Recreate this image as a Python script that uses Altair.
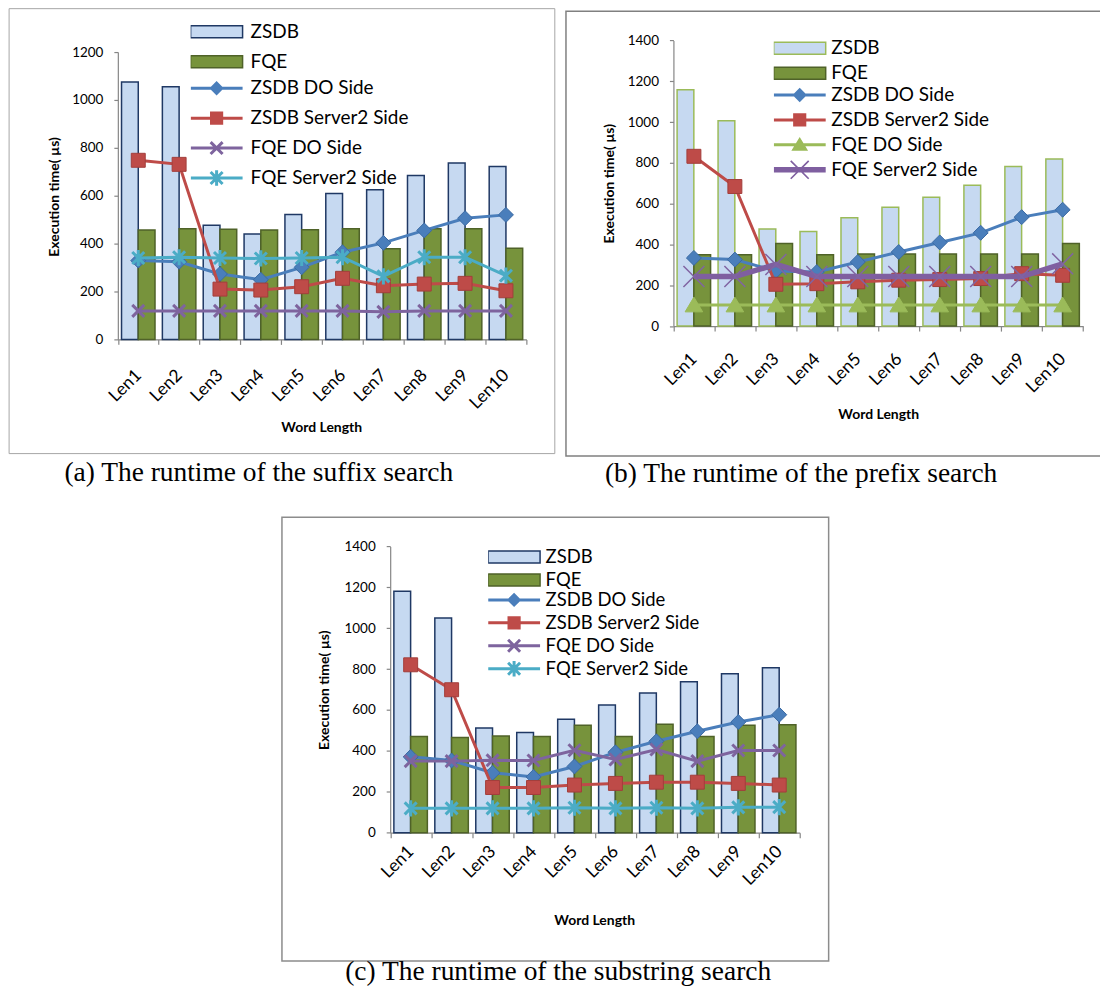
import altair as alt
import pandas as pd

cats = ["Len1", "Len2", "Len3", "Len4", "Len5", "Len6", "Len7", "Len8", "Len9", "Len10"]
bar_names = ["ZSDB", "FQE"]
line_names = ["ZSDB DO Side", "ZSDB Server2 Side", "FQE DO Side", "FQE Server2 Side"]

# (a) suffix search
a_zsdb = [1075, 1055, 477, 440, 522, 609, 625, 684, 737, 722]
a_fqe = [457, 462, 460, 457, 458, 462, 379, 462, 462, 381]
a_zsdb_do = [329, 324, 273, 249, 301, 364, 403, 455, 506, 520]
a_zsdb_s2 = [748, 731, 210, 206, 220, 255, 224, 231, 234, 203]
a_fqe_do = [119, 119, 119, 119, 119, 119, 115, 119, 119, 119]
a_fqe_s2 = [340, 343, 340, 338, 340, 343, 263, 343, 343, 266]

# (b) prefix search
b_zsdb = [1158, 1006, 476, 464, 531, 583, 632, 690, 782, 819]
b_fqe = [350, 350, 405, 350, 353, 353, 353, 353, 353, 405]
b_zsdb_do = [334, 326, 270, 265, 314, 363, 410, 457, 534, 570]
b_zsdb_s2 = [832, 684, 205, 208, 217, 225, 228, 233, 257, 249]
b_fqe_do = [103, 103, 103, 103, 103, 103, 103, 103, 103, 103]
b_fqe_s2 = [243, 243, 302, 243, 243, 243, 243, 243, 243, 305]

# (c) substring search
c_zsdb = [1181, 1050, 512, 490, 555, 625, 683, 738, 777, 807]
c_fqe = [471, 465, 473, 471, 526, 471, 530, 471, 526, 528]
c_zsdb_do = [371, 353, 293, 273, 324, 393, 447, 496, 541, 577]
c_zsdb_s2 = [821, 699, 221, 221, 233, 241, 247, 247, 241, 233]
c_fqe_do = [350, 350, 354, 353, 403, 358, 407, 350, 402, 402]
c_fqe_s2 = [119, 119, 119, 119, 122, 119, 122, 119, 124, 125]

captions = ["(a) The runtime of the suffix search",
            "(b) The runtime of the prefix search",
            "(c) The runtime of the substring search"]

FONT = "Lato"
AXIS_GRAY = "#868686"

# ---- marker paths (unit coords) ----
DIAMOND = "M0,-1L1,0L0,1L-1,0Z"
SQUARE = "M-1,-1H1V1H-1Z"
XMARK = "M-1,-1L1,1M-1,1L1,-1"
ASTER = "M-1,-1L1,1M-1,1L1,-1M0,-1.35V1.35"
TRI = "M0,-1L1.1,0.85H-1.1Z"


# ---- filled legend symbol paths (unit = 12px with symbolSize 576) ----
def _r(v):
    return f"{v:.3f}"


def hbar(h):
    return f"M-2.17,{_r(-h)}H2.17V{_r(h)}H-2.17Z"


def xpoly(a, h):
    o = h / 2 ** 0.5
    p = [(-a + o, -a - o), (a + o, a - o), (a - o, a + o), (-a - o, -a + o)]
    q = [(-a - o, a - o), (a - o, -a - o), (a + o, -a + o), (-a + o, a + o)]
    s = ""
    for pts in (p, q):
        s += "M" + "L".join(f"{_r(x)},{_r(y)}" for x, y in pts) + "Z"
    return s


L_RECT = "M-2.17,-0.5H2.17V0.5H-2.17Z"
L_DIAMOND = hbar(0.125) + "M0,-0.6L0.6,0L0,0.6L-0.6,0Z"
L_SQUARE = hbar(0.125) + "M-0.55,-0.55H0.55V0.55H-0.55Z"
L_X = hbar(0.125) + xpoly(0.5, 0.125)
L_ASTER = L_X + "M-0.125,-0.65H0.125V0.65H-0.125Z"
L_TRI = hbar(0.125) + "M0,-0.65L0.7,0.5H-0.7Z"
L_XTHICK = hbar(0.23) + xpoly(0.75, 0.07)

STYLE_AC = [
    dict(color="#4A7EBB", w=3, shape=DIAMOND, size=225, fill="#4A7EBB", stroke="#3A69A3", sw=1, leg=L_DIAMOND),
    dict(color="#BE4B48", w=3, shape=SQUARE, size=196, fill="#BE4B48", stroke="#A33E3B", sw=1, leg=L_SQUARE),
    dict(color="#7E649E", w=3, shape=XMARK, size=144, fill="#7E649E", stroke="#7E649E", sw=3, leg=L_X),
    dict(color="#4BACC6", w=3, shape=ASTER, size=144, fill="#4BACC6", stroke="#4BACC6", sw=3, leg=L_ASTER),
]
STYLE_B = [
    dict(color="#4A7EBB", w=3, shape=DIAMOND, size=225, fill="#4A7EBB", stroke="#3A69A3", sw=1, leg=L_DIAMOND),
    dict(color="#BE4B48", w=3, shape=SQUARE, size=196, fill="#BE4B48", stroke="#A33E3B", sw=1, leg=L_SQUARE),
    dict(color="#9BBB59", w=3, shape=TRI, size=256, fill="#9BBB59", stroke="#9BBB59", sw=1, leg=L_TRI),
    dict(color="#7F5FA0", w=5.5, shape=XMARK, size=441, fill="#7F5FA0", stroke="#8064A2", sw=1.5, leg=L_XTHICK),
]

INDEP = dict(color="independent", fill="independent", stroke="independent", shape="independent")


def panel(bars, lines, styles, ymax, g, caption):
    bar_df = pd.DataFrame({
        "cat": cats * 2,
        "bar": [bar_names[0]] * len(cats) + [bar_names[1]] * len(cats),
        "value": list(bars[0]) + list(bars[1]),
    })
    x_axis = alt.Axis(
        offset=g["xoff"], tickBand="extent", tickSize=5, tickColor=AXIS_GRAY,
        domainColor=AXIS_GRAY, domainWidth=1.2, tickWidth=1.2,
        labelAngle=-45, labelAlign="right", labelBaseline="middle",
        labelFont=FONT, labelFontSize=17.5, labelColor="black", labelPadding=g["xlp"],
        title="Word Length", titleFont=FONT, titleFontSize=14, titleFontWeight="bold",
        titleColor="black", titleX=g["xtx"], titleY=g["xty"], titleAlign="center",
        titleBaseline="middle", grid=False,
    )
    y_axis = alt.Axis(
        offset=g["yoff"], values=list(range(0, ymax + 1, 200)), format="d", tickSize=4,
        tickColor=AXIS_GRAY, domainColor=AXIS_GRAY, domainWidth=1.2, tickWidth=1.2,
        labelFont=FONT, labelFontSize=13.5, labelColor="black", labelPadding=11,
        title="Execution time( µs)", titleFont=FONT, titleFontSize=14,
        titleFontWeight="bold", titleColor="black", titleAngle=270,
        titleX=g["ytx"], titleY=g["yty"], titleAlign="center", titleBaseline="middle",
        grid=False,
    )
    x_enc = alt.X("cat:N", sort=cats,
                  scale=alt.Scale(domain=cats, range=[g["x0"], g["x1"]], paddingInner=0, paddingOuter=0),
                  axis=x_axis)
    y_enc = alt.Y("value:Q", stack=None,
                  scale=alt.Scale(domain=[0, ymax], range=[g["y0"], g["y1"]], nice=False),
                  axis=y_axis)

    leg_bars = alt.Legend(
        title=None, orient="none", legendX=g["lx"], legendY=g["ly"], direction="vertical",
        symbolType=L_RECT, symbolSize=576, symbolStrokeWidth=1.5, symbolOffset=13,
        labelOffset=g["lo"], labelFont=FONT, labelFontSize=g["lfs"], labelColor="black",
        clipHeight=g["row"], rowPadding=0, padding=0, labelLimit=300,
    )
    bars_layer = alt.Chart(bar_df).mark_bar(strokeWidth=1.5, opacity=1).encode(
        x=x_enc,
        xOffset=alt.XOffset("bar:N", sort=bar_names,
                            scale=alt.Scale(domain=bar_names, paddingInner=0, paddingOuter=0.22)),
        y=y_enc,
        fill=alt.Fill("bar:N", sort=bar_names,
                      scale=alt.Scale(domain=bar_names, range=g["bar_fill"]), legend=leg_bars),
        stroke=alt.Stroke("bar:N", sort=bar_names,
                          scale=alt.Scale(domain=bar_names, range=g["bar_stroke"]), legend=leg_bars),
    )

    layers = [bars_layer]
    for name, vals, st in zip(line_names, lines, styles):
        df = pd.DataFrame({"cat": cats, "value": vals, "series": name})
        layers.append(alt.Chart(df).mark_line(stroke=st["color"], strokeWidth=st["w"]).encode(x=x_enc, y=y_enc))
        layers.append(alt.Chart(df).mark_point(
            shape=st["shape"], size=st["size"], filled=True, fill=st["fill"],
            stroke=st["stroke"], strokeWidth=st["sw"], opacity=1,
        ).encode(x=x_enc, y=y_enc))

    # legend-only layer (no rows drawn): color + shape legend for the four line series
    leg_df = pd.DataFrame({
        "cat": cats[:1] * len(line_names),
        "value": [0] * len(line_names),
        "series": line_names,
    })
    leg_lines = alt.Legend(
        title=None, orient="none", legendX=g["lx"], legendY=g["ly"] + 2 * g["row"] - 2,
        direction="vertical", symbolSize=576, symbolStrokeWidth=0, symbolOffset=14,
        labelOffset=g["lo"] + 1, labelFont=FONT, labelFontSize=g["lfs"], labelColor="black",
        clipHeight=g["row"], rowPadding=0, padding=0, labelLimit=300,
    )
    legend_layer = alt.Chart(leg_df).transform_filter("false").mark_point(filled=True, opacity=1).encode(
        x=x_enc, y=y_enc,
        color=alt.Color("series:N", sort=line_names,
                        scale=alt.Scale(domain=line_names, range=[s["color"] for s in styles]), legend=leg_lines),
        shape=alt.Shape("series:N", sort=line_names,
                        scale=alt.Scale(domain=line_names, range=[s["leg"] for s in styles]), legend=leg_lines),
    )
    layers.append(legend_layer)

    return alt.layer(*layers).properties(
        width=g["w"], height=g["h"],
        view=alt.ViewBackground(stroke=g["frame"], strokeWidth=g["fw"]),
        title=alt.TitleParams(text=caption, orient="bottom", anchor="middle",
                              font="Liberation Serif", fontSize=27.5, fontWeight="normal",
                              color="black", offset=g["coff"], dx=g["cdx"]),
    )


GA = dict(w=547, h=446, x0=109.5, x1=519, y0=332, y1=44, xoff=-114, yoff=-109.5,
          xlp=28, xtx=313.4, xty=88.3, ytx=-63.9, yty=188.7,
          lx=182.5, ly=9, row=29.3, lo=21.1, lfs=19, frame="#a6a6a6", fw=1, cdx=-22.7, coff=6,
          bar_fill=["#C6D9F1", "#77933C"], bar_stroke=["#1F3864", "#4F6228"])
GB = dict(w=545, h=446, x0=107.7, x1=518.4, y0=315.7, y1=29.3, xoff=-130.3, yoff=-107.7,
          xlp=25, xtx=313, xty=88.6, ytx=-63.7, yty=172.5,
          lx=208.3, ly=25, row=24.4, lo=18.6, lfs=19, frame="#808080", fw=1.5, cdx=-36.8, coff=4,
          bar_fill=["#C6D9F1", "#77933C"], bar_stroke=["#9BBB59", "#4F6228"])
GC = dict(w=548, h=445, x0=108.5, x1=519, y0=316.3, y1=29.3, xoff=-128.7, yoff=-108.5,
          xlp=11, xtx=313, xty=87.7, ytx=-65.7, yty=173,
          lx=206.7, ly=28.7, row=22.5, lo=18.6, lfs=18.5, frame="#8c8c8c", fw=1.5, cdx=2.9, coff=-3,
          bar_fill=["#C6D9F1", "#77933C"], bar_stroke=["#1F3864", "#4F6228"])

chart_a = panel([a_zsdb, a_fqe], [a_zsdb_do, a_zsdb_s2, a_fqe_do, a_fqe_s2], STYLE_AC, 1200, GA, captions[0])
chart_b = panel([b_zsdb, b_fqe], [b_zsdb_do, b_zsdb_s2, b_fqe_do, b_fqe_s2], STYLE_B, 1400, GB, captions[1])
chart_c = panel([c_zsdb, c_fqe], [c_zsdb_do, c_zsdb_s2, c_fqe_do, c_fqe_s2], STYLE_AC, 1400, GC, captions[2])


def spacer(w, h):
    return alt.Chart(pd.DataFrame({"v": [0]})).mark_rule(strokeWidth=0, opacity=0).encode(
        x=alt.value(1), x2=alt.value(1), y=alt.value(1), y2=alt.value(1)
    ).properties(width=w, height=h, view=alt.ViewBackground(strokeWidth=0))


col_b = alt.vconcat(spacer(545, 1.5), chart_b, spacing=0).resolve_scale(**INDEP)
top = alt.hconcat(chart_a, col_b, spacing=2.7).resolve_scale(**INDEP)
bottom = alt.hconcat(spacer(266, 10), chart_c, spacing=0).resolve_scale(**INDEP)

chart = alt.vconcat(top, bottom, spacing=27.2).resolve_scale(**INDEP).properties(
    padding={"left": -6.4, "top": -2, "right": -11, "bottom": 0}
).configure_view(strokeWidth=0).configure(font=FONT)

chart.save("out.html", embed_options={"renderer": "svg", "actions": False})
